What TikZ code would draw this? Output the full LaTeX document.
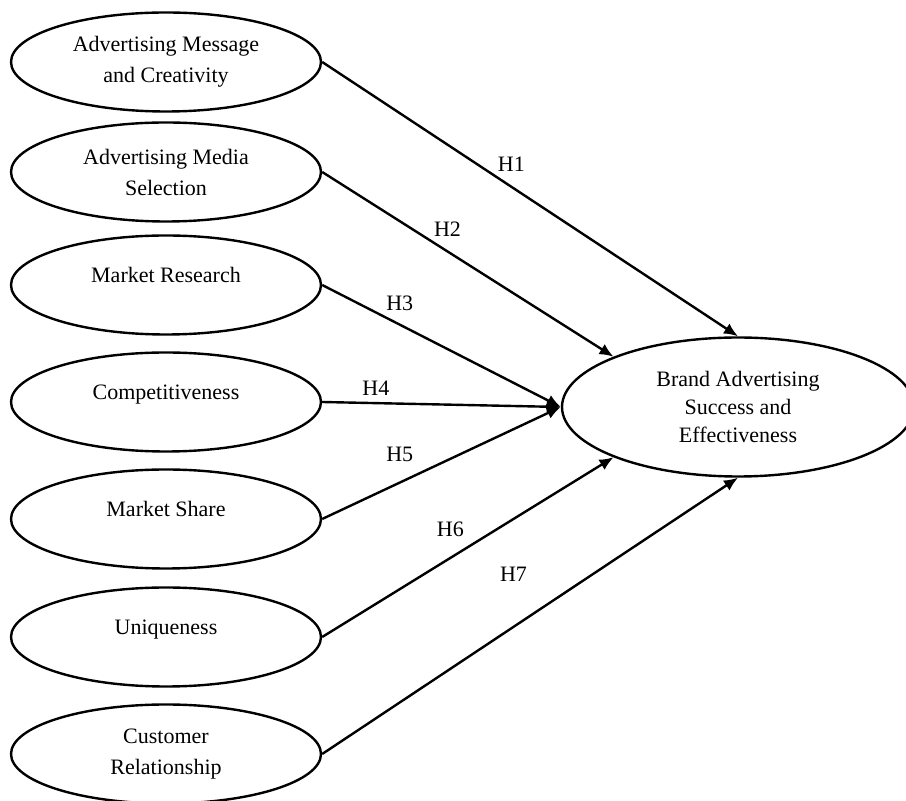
\documentclass[tikz,border=0pt]{standalone}
\usepackage{fontspec}
\setmainfont{Liberation Serif}
\usetikzlibrary{shapes,arrows.meta}

\begin{document}
\begin{tikzpicture}[x=0.5pt, y=-0.5pt, >={Latex[length=7pt, width=6pt]}, line width=1.2pt,
    font=\fontsize{11pt}{14pt}\selectfont,
    factor/.style={draw, ellipse, align=center, minimum width=155pt, minimum height=49.5pt,
        font=\fontsize{11pt}{15.5pt}\selectfont},
    oneline/.style={text height=7.6pt, text depth=10pt},
    outcome/.style={draw, ellipse, align=center, minimum width=176pt, minimum height=69.5pt}]
    \useasboundingbox (0,0) rectangle (906,801);
    % independent variables
    \node [factor] (message) at (166,62) {Advertising Message\\and Creativity};
    \node [factor] (media) at (166,172) {Advertising Media\\Selection};
    \node [factor, oneline] (research) at (166,285) {Market Research};
    \node [factor, oneline] (compet) at (166,402) {Competitiveness};
    \node [factor, oneline] (share) at (166,519) {Market Share};
    \node [factor, oneline] (unique) at (166,637) {Uniqueness};
    \node [factor] (customer) at (166,754) {Customer\\Relationship};
    % dependent variable
    \node [outcome] (brand) at (738,407) {Brand Advertising\\Success and\\Effectiveness};
    % hypotheses
    \draw [->] (message.east) -- node[pos=.455, above=3.7pt] {H1} (brand.north);
    \draw [->] (media.east) -- node[pos=.43, above=3.7pt] {H2} (brand.158);
    \draw [->] (research.east) -- node[pos=.325, above=3.2pt] {H3} (brand.west);
    \draw [->] (compet.east) -- node[pos=.225, above] {H4} (brand.west);
    \draw [->] (share.east) -- node[pos=.325, above=6.7pt] {H5} (brand.west);
    \draw [->] (unique.east) -- node[pos=.44, above=6.7pt] {H6} (brand.202);
    \draw [->] (customer.east) -- node[pos=.46, above=19pt] {H7} (brand.south);
\end{tikzpicture}
\end{document}
